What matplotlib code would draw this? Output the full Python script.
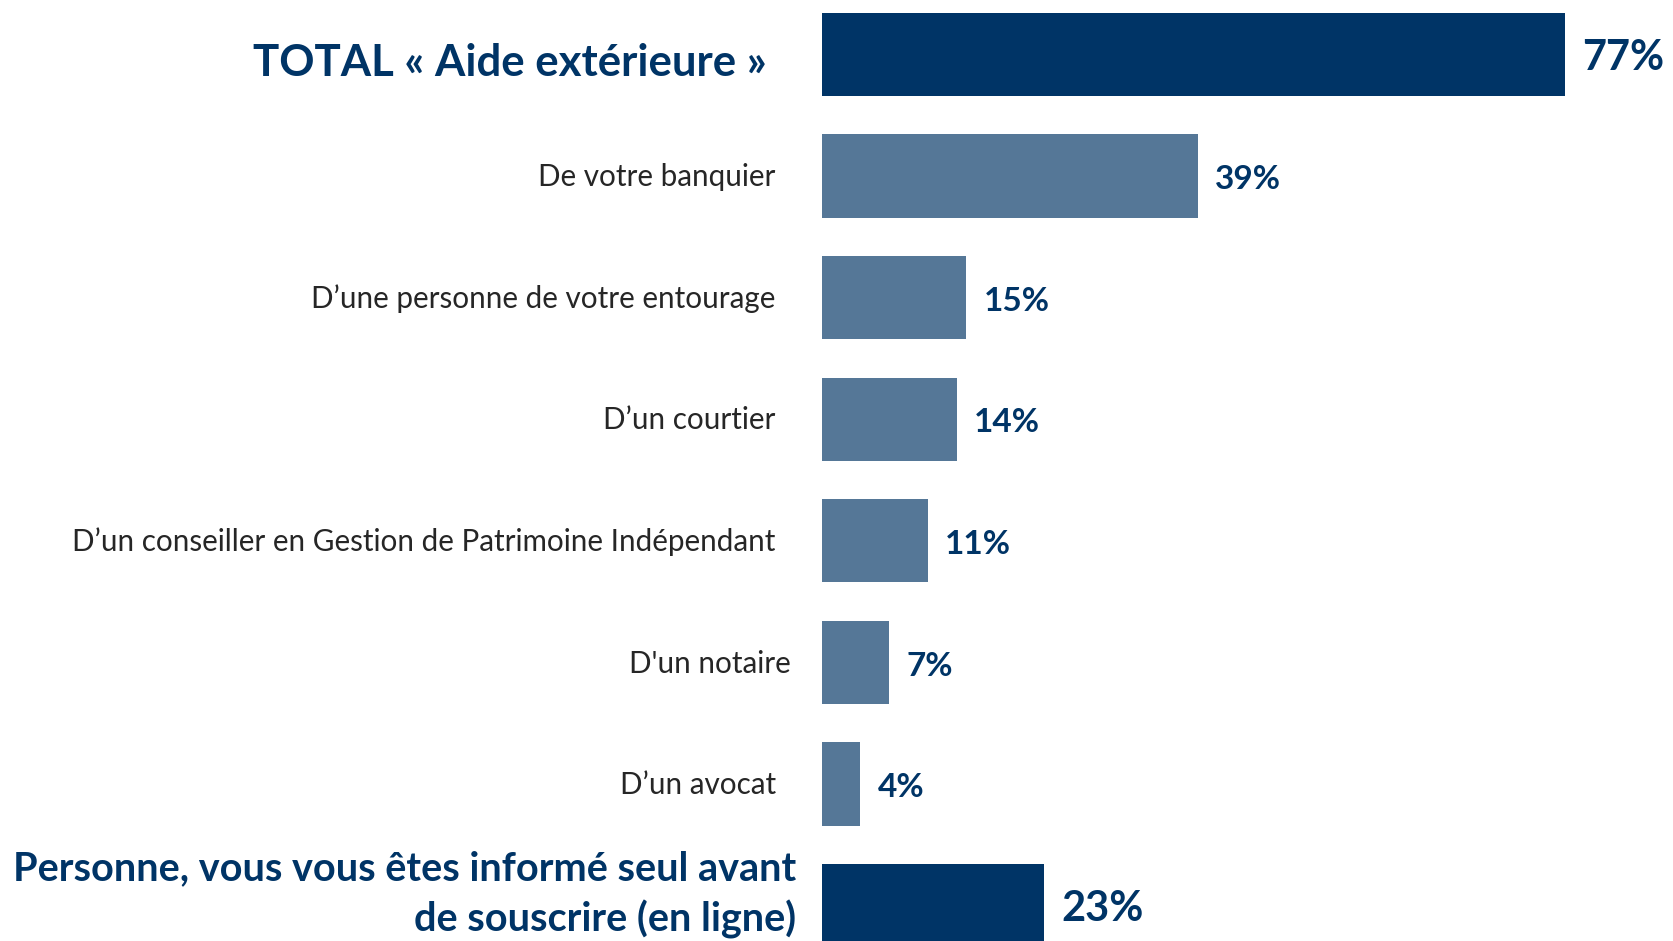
import matplotlib.pyplot as plt

labels = [
    "TOTAL « Aide extérieure »",
    "De votre banquier",
    "D’une personne de votre entourage",
    "D’un courtier",
    "D’un conseiller en Gestion de Patrimoine Indépendant",
    "D'un notaire",
    "D’un avocat",
    "Personne, vous vous êtes informé seul avant\nde souscrire (en ligne)",
]
values = [77, 39, 15, 14, 11, 7, 4, 23]
highlight = [True, False, False, False, False, False, False, True]

dark = "#003466"
light = "#557797"
text_grey = "#262626"

plt.rcParams['font.family'] = ['Lato', 'DejaVu Sans']

fig = plt.figure(figsize=(16.73, 9.41), dpi=100)
ax = fig.add_axes([0, 0, 1, 1])

pos = list(range(len(values)))
colors = [dark if h else light for h in highlight]
ax.barh(pos, values, height=0.684, color=colors)

# pixel mapping: x=0 at 821.6 px, 9.65 px per point; row pitch 121.6 px
ax.set_xlim(-821.6 / 9.65, (1673 - 821.6) / 9.65)
ax.set_ylim((941 - 54.4) / 121.6, -54.4 / 121.6)
ax.axis('off')

for i, (lab, v, h) in enumerate(zip(labels, values, highlight)):
    if i == 0:
        ax.text(-5.66, i + 0.07, lab, ha='right', va='center', fontsize=31.5,
                fontweight='bold', color=dark)
    elif i == len(values) - 1:
        ax.text(-2.65, i - 0.09, lab, ha='right', va='center', fontsize=28.5,
                fontweight='bold', color=dark, linespacing=1.42)
    elif lab.startswith("D'un notaire"):
        ax.text(-3.2, i + 0.01, lab, ha='right', va='center', fontsize=21.3,
                color=text_grey)
    else:
        ax.text(-4.76, i + 0.01, lab, ha='right', va='center', fontsize=21.3,
                color=text_grey)
    size = 30 if h else 24
    ax.text(v + 1.8, i + 0.03, f"{v}%", ha='left', va='center', fontsize=size,
            fontweight='bold', color=dark)

fig.savefig("out.png", dpi=100)
